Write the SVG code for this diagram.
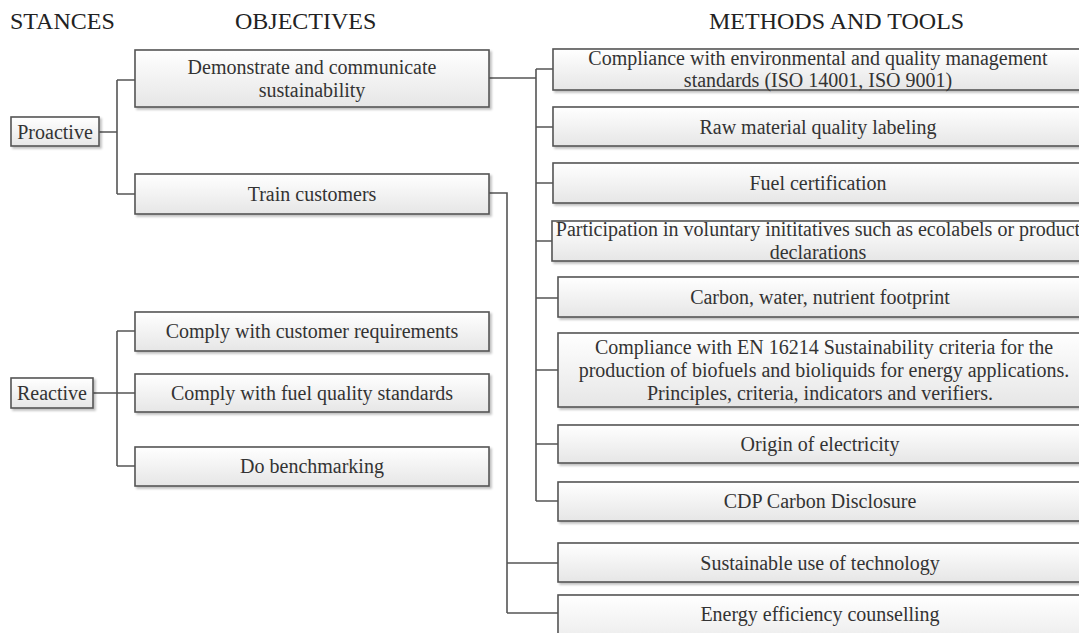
<svg xmlns="http://www.w3.org/2000/svg" width="1079" height="633" viewBox="0 0 1079 633">
<defs>
<linearGradient id="g" x1="0" y1="0" x2="0" y2="1">
<stop offset="0" stop-color="#ffffff"/>
<stop offset="1" stop-color="#e6e6e6"/>
</linearGradient>
<filter id="sh" x="-5%" y="-10%" width="110%" height="130%">
<feDropShadow dx="2" dy="2" stdDeviation="1.2" flood-color="#000" flood-opacity="0.25"/>
</filter>
</defs>
<style>
.box{fill:url(#g);stroke:#555;stroke-width:1.6;filter:url(#sh)}
.t{font-family:"Liberation Serif","Times New Roman",serif;font-size:20px;fill:#333;text-anchor:middle;dominant-baseline:central}
.h{font-family:"Liberation Serif","Times New Roman",serif;font-size:24px;fill:#222}
.c{fill:none;stroke:#555;stroke-width:1.6}
</style>
<rect width="1079" height="633" fill="#fff"/>
<g id="headers">
<text class="h" x="10" y="29">STANCES</text>
<text class="h" x="235" y="29">OBJECTIVES</text>
<text class="h" x="709" y="29">METHODS AND TOOLS</text>
</g>
<g id="connectors">
<path class="c" d="M99 132H117M117 80V194M117 80H135M117 194H135"/>
<path class="c" d="M93 393H117M117 331V466M117 331H135M117 393H135M117 466H135"/>
<path class="c" d="M489 78H536M536 69V501M536 69H553M536 127H553M536 183H553M536 241H552M536 298H558M536 370H558M536 444H558M536 501H558"/>
<path class="c" d="M489 193H507V613M507 563H558M507 613H558"/>
</g>
<g id="proactive"><rect class="box" x="11" y="117" width="88" height="29"/><text class="t" x="55" y="132">Proactive</text></g>
<g id="reactive"><rect class="box" x="11" y="378" width="82" height="30"/><text class="t" x="52" y="393">Reactive</text></g>
<g id="demonstrate"><rect class="box" x="135" y="50" width="354" height="57"/><text class="t" x="312" y="67">Demonstrate and communicate</text><text class="t" x="312" y="90">sustainability</text></g>
<g id="train"><rect class="box" x="135" y="174" width="354" height="40"/><text class="t" x="312" y="194">Train customers</text></g>
<g id="comply-customer"><rect class="box" x="135" y="312" width="354" height="39"/><text class="t" x="312" y="331">Comply with customer requirements</text></g>
<g id="comply-fuel"><rect class="box" x="135" y="374" width="354" height="38"/><text class="t" x="312" y="393">Comply with fuel quality standards</text></g>
<g id="benchmarking"><rect class="box" x="135" y="447" width="354" height="39"/><text class="t" x="312" y="466">Do benchmarking</text></g>
<g id="iso"><rect class="box" x="553" y="49" width="540" height="41"/><text class="t" x="818" y="58">Compliance with environmental and quality management</text><text class="t" x="818" y="80">standards (ISO 14001, ISO 9001)</text></g>
<g id="raw"><rect class="box" x="553" y="107" width="540" height="39"/><text class="t" x="818" y="127">Raw material quality labeling</text></g>
<g id="fuelcert"><rect class="box" x="553" y="163" width="540" height="40"/><text class="t" x="818" y="183">Fuel certification</text></g>
<g id="participation"><rect class="box" x="552" y="221" width="540" height="40"/><text class="t" x="818" y="229">Participation in voluntary inititatives such as ecolabels or product</text><text class="t" x="818" y="252">declarations</text></g>
<g id="footprint"><rect class="box" x="558" y="277" width="540" height="40"/><text class="t" x="820" y="297">Carbon, water, nutrient footprint</text></g>
<g id="en16214"><rect class="box" x="558" y="333" width="540" height="74"/><text class="t" x="824" y="347">Compliance with EN 16214 Sustainability criteria for the</text><text class="t" x="824" y="370">production of biofuels and bioliquids for energy applications.</text><text class="t" x="820" y="393">Principles, criteria, indicators and verifiers.</text></g>
<g id="electricity"><rect class="box" x="558" y="425" width="540" height="38"/><text class="t" x="820" y="444">Origin of electricity</text></g>
<g id="cdp"><rect class="box" x="558" y="482" width="540" height="39"/><text class="t" x="820" y="501">CDP Carbon Disclosure</text></g>
<g id="technology"><rect class="box" x="558" y="543" width="540" height="39"/><text class="t" x="820" y="563">Sustainable use of technology</text></g>
<g id="counselling"><rect class="box" x="558" y="595" width="540" height="60"/><text class="t" x="820" y="614">Energy efficiency counselling</text></g>
</svg>
